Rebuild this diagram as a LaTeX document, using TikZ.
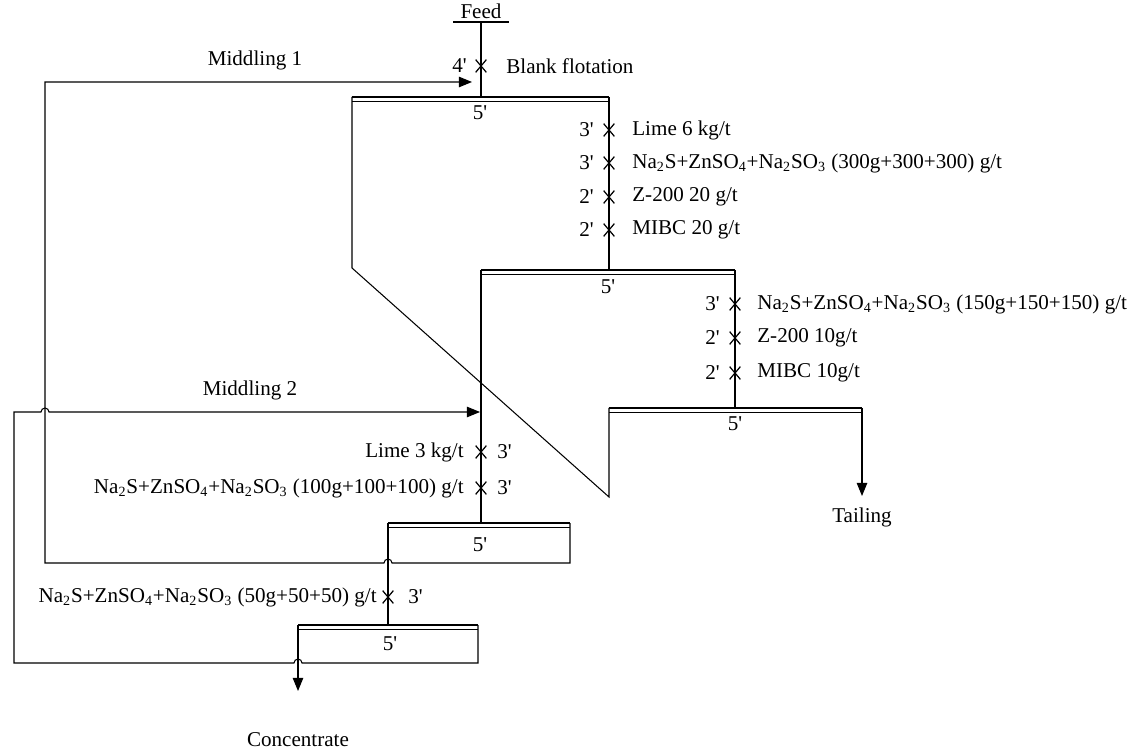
\documentclass[tikz,border=0pt]{standalone}
\usepackage{fontspec}
\setmainfont{Liberation Serif}
\usetikzlibrary{shapes.misc,arrows.meta}

\newcommand{\mixreag}{Na\textsubscript{2}S+ZnSO\textsubscript{4}+Na\textsubscript{2}SO\textsubscript{3}}
\newcommand{\mn}[1]{#1\textquotesingle}
\newcommand{\flotcell}[2]{%
  \draw[froth] (#1) -- (#2);
  \draw[lip] ([yshift=-2.6pt]#1) -- ([yshift=-2.6pt]#2);}

\begin{document}
\begin{tikzpicture}[x=0.02cm,y=-0.02cm]
    \tikzset{
    lbl/.style={font=\fontsize{12}{14}\selectfont, inner sep=0pt},
    dose/.style={cross out,draw,minimum width=0.19cm,minimum height=0.23cm,inner sep=0pt,line width=0.7pt},
    pipe/.style={line width=0.6pt},
    flowarrow/.style={pipe,-{Triangle[length=7.5pt,width=6pt]}},
    froth/.style={line width=1.5pt},
    lip/.style={line width=0.5pt},
    }
    \useasboundingbox (0,0) rectangle (1142,749);

    % cell ends
    \coordinate (c1l) at (352,97);  \coordinate (c1r) at (609,97);
    \coordinate (c2l) at (481,270); \coordinate (c2r) at (735,270);
    \coordinate (c3l) at (609,408); \coordinate (c3r) at (862,408);
    \coordinate (k1l) at (388,523); \coordinate (k1r) at (570,523);
    \coordinate (k2l) at (298,625); \coordinate (k2r) at (478,625);
    \coordinate (c1f) at (481,97);

    \flotcell{c1l}{c1r}
    \flotcell{c2l}{c2r}
    \flotcell{c3l}{c3r}
    \flotcell{k1l}{k1r}
    \flotcell{k2l}{k2r}

    \node[lbl] at (480,113) {\mn{5}};
    \node[lbl] at (608,287) {\mn{5}};
    \node[lbl] at (735,424) {\mn{5}};
    \node[lbl] at (480,545) {\mn{5}};
    \node[lbl] at (390,644) {\mn{5}};

    % feed
    \node[lbl] (feed) at (481,11) {Feed};
    \coordinate (fd) at (481,22);
    \draw[pipe] (453,22) -- (509,22);
    \node[dose] (x0) at (481,66) {};
    \draw[pipe] (fd) -- (c1f);
    \node[lbl,anchor=east] at (467,66) {\mn{4}};
    \node[lbl,anchor=west] at (506,66) {Blank flotation};

    % rougher -> scavenger 1
    \node[dose] (x1) at (609,130) {};
    \node[dose] (x2) at (609,163) {};
    \node[dose] (x3) at (609,197) {};
    \node[dose] (x4) at (609,230) {};
    \draw[pipe] (c1r) -- (609,270);
    \node[lbl,anchor=east] at (594,130) {\mn{3}};
    \node[lbl,anchor=east] at (594,163) {\mn{3}};
    \node[lbl,anchor=east] at (594,197) {\mn{2}};
    \node[lbl,anchor=east] at (594,230) {\mn{2}};
    \node[lbl,anchor=west] at (632,130) {Lime 6 kg/t};
    \node[lbl,anchor=west] at (632,163) {\mixreag{} (300g+300+300) g/t};
    \node[lbl,anchor=west] at (632,197) {Z-200 20 g/t};
    \node[lbl,anchor=west] at (632,230) {MIBC 20 g/t};

    % scavenger 1 -> scavenger 2
    \node[dose] (x5) at (735,304) {};
    \node[dose] (x6) at (735,338) {};
    \node[dose] (x7) at (735,373) {};
    \draw[pipe] (c2r) -- (735,408);
    \node[lbl,anchor=east] at (720,304) {\mn{3}};
    \node[lbl,anchor=east] at (720,338) {\mn{2}};
    \node[lbl,anchor=east] at (720,373) {\mn{2}};
    \node[lbl,anchor=west] at (757,304) {\mixreag{} (150g+150+150) g/t};
    \node[lbl,anchor=west] at (757,338) {Z-200 10g/t};
    \node[lbl,anchor=west] at (757,373) {MIBC 10g/t};

    % tailing
    \node[lbl] (tail) at (862,517) {Tailing};
    \draw[flowarrow] (c3r) -- (862,496);

    % rougher froth return from scavenger 2
    \draw[pipe] (c1l) -- (352,268) -- (609,497) -- (c3l);

    % scavenger 1 froth -> cleaner 1
    \node[dose] (x8) at (481,452) {};
    \node[dose] (x9) at (481,488) {};
    \draw[pipe] (c2l) -- (481,523);
    \node[lbl,anchor=east] at (464,452) {Lime 3 kg/t};
    \node[lbl,anchor=east] at (464,488) {\mixreag{} (100g+100+100) g/t};
    \node[lbl,anchor=west] at (497,452) {\mn{3}};
    \node[lbl,anchor=west] at (497,488) {\mn{3}};

    % cleaner 1 -> cleaner 2
    \node[dose] (x10) at (388,597) {};
    \draw[pipe] (k1l) -- (k1l |- k2l);
    \node[lbl,anchor=east] at (377,597) {\mixreag{} (50g+50+50) g/t};
    \node[lbl,anchor=west] at (408,597) {\mn{3}};

    % concentrate
    \node[lbl] (conc) at (298,740) {Concentrate};
    \draw[flowarrow] (k2l) -- (298,691);

    % middling 1
    \node[lbl] at (255,60) {Middling 1};
    \draw[flowarrow] (k1r) -- (570,563) -- (392,563)
        arc[start angle=0,end angle=-180,radius=4] -- (45,563) -- (45,82) -- (472,82);

    % middling 2
    \node[lbl] at (250,390) {Middling 2};
    \draw[flowarrow] (k2r) -- (478,663) -- (302,663)
        arc[start angle=0,end angle=-180,radius=4] -- (14,663) -- (14,412) -- (41,412)
        arc[start angle=180,end angle=360,radius=4] -- (480,412);
\end{tikzpicture}
\end{document}
